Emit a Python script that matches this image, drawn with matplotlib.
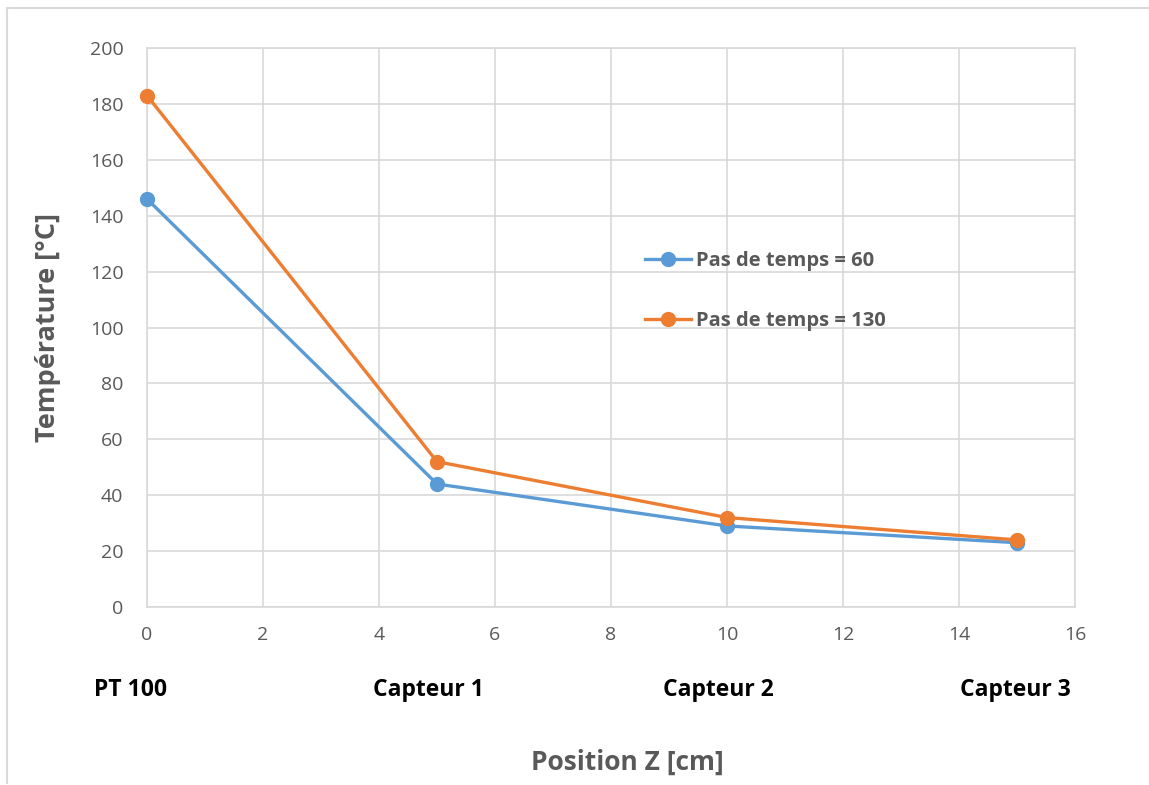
import matplotlib
matplotlib.use("Agg")
import matplotlib.pyplot as plt
from matplotlib.lines import Line2D

positions = [0, 5, 10, 15]
temp_60 = [146, 44, 29, 23]
temp_130 = [183, 52, 32, 24]
sensor_labels = ["PT 100", "Capteur 1", "Capteur 2", "Capteur 3"]
sensor_label_x = [130, 428, 718, 1015]  # pixel centres
series_names = ["Pas de temps = 60", "Pas de temps = 130"]
xticks = list(range(0, 17, 2))
yticks = list(range(0, 201, 20))

plt.rcParams['font.family'] = ['Open Sans', 'DejaVu Sans']

W, H = 1149, 785
fig = plt.figure(figsize=(W/100, H/100), dpi=100)
border_c = '#d9d9d9'
fig.lines.append(Line2D([7/W, 7/W], [1-783/H, 1-8/H], transform=fig.transFigure, color=border_c, lw=1.5))
fig.lines.append(Line2D([7/W, 1.0], [1-8/H, 1-8/H], transform=fig.transFigure, color=border_c, lw=1.5))

ax = fig.add_axes([147/W, 1-607/H, (1075-147)/W, (607-48)/H])
grid_c = '#d9d9d9'
ax.plot(positions, temp_60, color='#5B9BD5', lw=2.4, marker='o', ms=10, label=series_names[0], zorder=3, clip_on=False)
ax.plot(positions, temp_130, color='#ED7D31', lw=2.4, marker='o', ms=10, label=series_names[1], zorder=4, clip_on=False)
ax.set_xlim(0, 16)
ax.set_ylim(0, 200)
ax.set_xticks(xticks)
ax.set_yticks(yticks)
ax.grid(True, color=grid_c, lw=1.2)
ax.set_axisbelow(True)
for s in ax.spines.values():
    s.set_color(grid_c)
    s.set_linewidth(1.2)
ax.tick_params(length=0, labelsize=14, colors='#595959')
ax.tick_params(axis='x', pad=14)
ax.tick_params(axis='y', pad=17)

for lab, px in zip(sensor_labels, sensor_label_x):
    fig.text(px/W, 1-690/H, lab, ha='center', va='center', fontsize=16.5, fontweight='bold', color='black')

fig.text(627/W, 1-762/H, "Position Z [cm]", ha='center', va='center', fontsize=19, fontweight='bold', color='#595959')
fig.text(48/W, 1-327/H, "Température [°C]", ha='center', va='center', rotation=90, fontsize=19.5, fontweight='bold', color='#595959')

leg = ax.legend(loc='upper left', bbox_to_anchor=((627-147)/(1075-147), (607-233)/(607-48)), frameon=False,
                fontsize=14.5, labelspacing=2.0, handlelength=2.3, handletextpad=0.25)
for t in leg.get_texts():
    t.set_color('#595959')
    t.set_fontweight('bold')

fig.savefig("out.png", dpi=100)
